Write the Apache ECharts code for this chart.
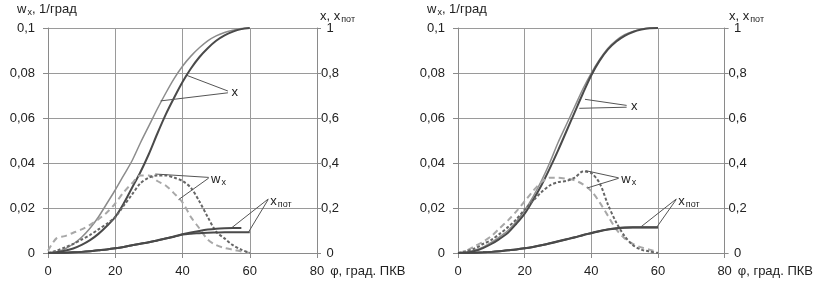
<!DOCTYPE html>
<html>
<head>
<meta charset="utf-8">
<script src="https://cdn.jsdelivr.net/npm/echarts@6/dist/echarts.min.js"></script>
<style>
  html, body { margin: 0; padding: 0; background: #fff; }
  #chart { width: 816px; height: 291px; }
</style>
</head>
<body>
<div id="chart"></div>
<script>
  // crank angle, deg (shared by every curve)
  var phi = [0, 2.5, 5, 7.5, 10, 12.5, 15, 17.5, 20, 22.5, 25, 27.5, 30,
             32.5, 35, 37.5, 40, 42.5, 45, 47.5, 50, 52.5, 55, 57.5, 60];

  // left chart
  var L_x1 = [0, 0.005, 0.018, 0.04, 0.07, 0.11, 0.16, 0.22, 0.28, 0.345, 0.41, 0.49, 0.565,
              0.64, 0.71, 0.775, 0.83, 0.875, 0.912, 0.943, 0.965, 0.98, 0.99, 0.998, 1];
  var L_x2 = [0, 0.003, 0.01, 0.02, 0.036, 0.057, 0.085, 0.12, 0.16, 0.22, 0.29, 0.36, 0.44,
              0.53, 0.615, 0.69, 0.76, 0.82, 0.87, 0.91, 0.943, 0.967, 0.984, 0.995, 1];
  var L_w1 = [0.001, 0.0065, 0.0075, 0.009, 0.0105, 0.0125, 0.015, 0.018, 0.022, 0.027, 0.031, 0.0345, 0.0345,
              0.032, 0.03, 0.0265, 0.0225, 0.016, 0.011, 0.006, 0.0035, 0.0022, 0.0015, 0.0007, 0];
  var L_w2 = [0, 0.001, 0.0025, 0.004, 0.006, 0.008, 0.0105, 0.013, 0.016, 0.021, 0.026, 0.031, 0.0335,
              0.0345, 0.0345, 0.0335, 0.032, 0.029, 0.023, 0.016, 0.0095, 0.0065, 0.0035, 0.0015, 0];
  var L_p1 = [0, 0.0005, 0.0015, 0.003, 0.005, 0.008, 0.012, 0.016, 0.021, 0.027, 0.034, 0.041, 0.048,
              0.056, 0.064, 0.073, 0.083, 0.091, 0.098, 0.104, 0.108, 0.11, 0.111, 0.111, null];
  var L_p2 = [0, 0.0005, 0.0015, 0.003, 0.005, 0.008, 0.012, 0.016, 0.021, 0.027, 0.034, 0.041, 0.048,
              0.056, 0.064, 0.072, 0.082, 0.086, 0.088, 0.09, 0.091, 0.092, 0.092, 0.092, 0.092];

  // right chart
  var R_x1 = [0, 0.003, 0.012, 0.026, 0.047, 0.072, 0.1, 0.14, 0.19, 0.25, 0.32, 0.4, 0.49,
              0.57, 0.65, 0.73, 0.8, 0.86, 0.91, 0.945, 0.97, 0.985, 0.995, 1, 1];
  var R_x2 = [0, 0.002, 0.009, 0.022, 0.04, 0.063, 0.09, 0.13, 0.175, 0.235, 0.3, 0.375, 0.455,
              0.54, 0.625, 0.71, 0.79, 0.855, 0.905, 0.94, 0.965, 0.982, 0.993, 0.999, 1];
  var R_w1 = [0, 0.001, 0.003, 0.005, 0.0075, 0.011, 0.0145, 0.0185, 0.023, 0.0275, 0.0315, 0.0335, 0.0335,
              0.033, 0.0323, 0.0305, 0.0275, 0.0225, 0.0165, 0.0105, 0.0065, 0.004, 0.0025, 0.0015, 0.0005];
  var R_w2 = [0, 0.0008, 0.002, 0.004, 0.0058, 0.0085, 0.0115, 0.015, 0.0193, 0.0232, 0.027, 0.03, 0.0315,
              0.032, 0.0335, 0.0362, 0.0355, 0.031, 0.0215, 0.0135, 0.0075, 0.0035, 0.0015, 0.0007, 0];
  var R_p1 = [0, 0.0005, 0.0015, 0.003, 0.005, 0.008, 0.012, 0.016, 0.021, 0.027, 0.034, 0.042, 0.051,
              0.06, 0.069, 0.079, 0.088, 0.097, 0.104, 0.109, 0.112, 0.113, 0.113, 0.113, 0.113];
  var R_p2 = [0, 0.0005, 0.0015, 0.003, 0.005, 0.008, 0.012, 0.016, 0.021, 0.027, 0.034, 0.043, 0.052,
              0.061, 0.07, 0.08, 0.089, 0.098, 0.105, 0.11, 0.113, 0.114, 0.114, 0.114, 0.114];

  // axis ticks
  var phiTicks = [0, 20, 40, 60, 80];
  var wTicks = [0, 0.02, 0.04, 0.06, 0.08, 0.1];
  var xTicks = [0, 0.2, 0.4, 0.6, 0.8, 1];

  // annotations: [phi, value] pairs, leader lines go label -> curve
  var L_xLabel = [54.3, 0.715];
  var L_xLeaders = [[[53.5, 0.72], [41.2, 0.79]], [[53.5, 0.712], [33.5, 0.676]]];
  var L_wLabel = [48.2, 0.0329];
  var L_wLeaders = [[[47.8, 0.0336], [31.9, 0.0351]], [[47.8, 0.0333], [38.8, 0.0237]]];
  var L_pLabel = [65.8, 0.23];
  var L_pLeaders = [[[65.5, 0.24], [54.7, 0.113]], [[65.5, 0.238], [59.6, 0.092]]];

  var R_xLabel = [51.6, 0.65];
  var R_xLeaders = [[[50.6, 0.656], [38.1, 0.683]], [[50.6, 0.648], [36.4, 0.643]]];
  var R_wLabel = [48.7, 0.0329];
  var R_wLeaders = [[[48.2, 0.0334], [38.3, 0.0366]], [[48.2, 0.0332], [38.8, 0.0289]]];
  var R_pLabel = [65.8, 0.23];
  var R_pLeaders = [[[65.5, 0.24], [54.7, 0.114]], [[65.5, 0.238], [59.6, 0.114]]];

  var FONT = '"Liberation Sans", Arial, sans-serif';
  var TXT = '#222';
  var GRIDC = '#9a9a9a';
  var rich = {
    m: { fontSize: 13, fontFamily: FONT, color: TXT },
    s: { fontSize: 9, fontFamily: FONT, color: TXT, padding: [7, 0, 0, 1] }
  };

  function comma(v, d) {
    return String(+v.toFixed(d)).replace('.', ',');
  }

  function pairs(vals) {
    var out = [];
    for (var i = 0; i < phi.length; i++) {
      if (vals[i] != null) out.push([phi[i], vals[i]]);
    }
    return out;
  }

  function leaders(list) {
    return list.map(function (l) {
      return [{ coord: l[0] }, { coord: l[1] }];
    });
  }

  function line(vals, xi, yi, color, width, type, ann) {
    var s = {
      type: 'line',
      xAxisIndex: xi,
      yAxisIndex: yi,
      data: pairs(vals),
      showSymbol: false,
      smooth: 0.3,
      lineStyle: { color: color, width: width, type: type },
      silent: true
    };
    if (ann) {
      s.markLine = {
        silent: true,
        symbol: ['none', 'none'],
        label: { show: false },
        lineStyle: { color: '#555', width: 1, type: 'solid' },
        data: leaders(ann.lines)
      };
      s.markPoint = {
        silent: true,
        symbol: 'circle',
        symbolSize: 0,
        label: {
          show: true, position: 'right', distance: 1,
          formatter: ann.text, rich: rich
        },
        data: [{ coord: ann.at }]
      };
    }
    return s;
  }

  function xAxis(gi) {
    return {
      gridIndex: gi, type: 'value', min: 0, max: 80, interval: 20,
      axisLine: { show: true, lineStyle: { color: '#8a8a8a' } },
      axisTick: { show: true, length: 5, lineStyle: { color: '#8a8a8a' } },
      axisLabel: { margin: 12, color: TXT, fontSize: 13, fontFamily: FONT },
      splitLine: { show: true, lineStyle: { color: GRIDC } },
      name: 'φ, град. ПКВ', nameLocation: 'end', nameGap: 9,
      nameTextStyle: { color: TXT, fontSize: 13, fontFamily: FONT,
                       verticalAlign: 'top', padding: [12, 0, 0, 0] }
    };
  }

  function wAxis(gi) {
    return {
      gridIndex: gi, type: 'value', position: 'left',
      min: wTicks[0], max: wTicks[wTicks.length - 1], interval: 0.02,
      axisLine: { show: true, lineStyle: { color: '#8a8a8a' } },
      axisTick: { show: true, length: 5, lineStyle: { color: '#8a8a8a' } },
      axisLabel: { margin: 13, color: TXT, fontSize: 13, fontFamily: FONT,
                   formatter: function (v) { return comma(v, 2); } },
      splitLine: { show: true, lineStyle: { color: GRIDC } }
    };
  }

  function xRightAxis(gi) {
    return {
      gridIndex: gi, type: 'value', position: 'right',
      min: xTicks[0], max: xTicks[xTicks.length - 1], interval: 0.2,
      axisLine: { show: true, lineStyle: { color: '#8a8a8a' } },
      axisTick: { show: true, length: 4, lineStyle: { color: '#8a8a8a' } },
      axisLabel: { margin: 13, align: 'center', color: TXT, fontSize: 13, fontFamily: FONT,
                   formatter: function (v) { return comma(v, 1); } },
      splitLine: { show: false }
    };
  }

  function title(left, top, text) {
    return {
      type: 'text', left: left, top: top,
      style: { text: text, rich: rich, font: '13px ' + FONT, fill: TXT }
    };
  }

  var DARK = '#4a4a4a', LIGHT = '#8c8c8c', DASH_D = '#666', DASH_L = '#a8a8a8';

  var option = {
    animation: false,
    backgroundColor: '#fff',
    grid: [
      { left: 48, top: 28, width: 269, height: 225 },
      { left: 458, top: 28, width: 269, height: 225 }
    ],
    xAxis: [xAxis(0), xAxis(1)],
    yAxis: [wAxis(0), xRightAxis(0), wAxis(1), xRightAxis(1)],
    graphic: [
      title(17, 3, '{m|w}{s|x}{m|, 1/град}'),
      title(320, 10, '{m|x, x}{s|пот}'),
      title(427, 3, '{m|w}{s|x}{m|, 1/град}'),
      title(729, 10, '{m|x, x}{s|пот}')
    ],
    series: [
      line(L_x1, 0, 1, LIGHT, 1.5, 'solid'),
      line(L_x2, 0, 1, DARK, 2, 'solid', { lines: L_xLeaders, at: L_xLabel, text: '{m|x}' }),
      line(L_w1, 0, 0, DASH_L, 2, [6, 4]),
      line(L_w2, 0, 0, DASH_D, 2, [3, 2], { lines: L_wLeaders, at: L_wLabel, text: '{m|w}{s|x}' }),
      line(L_p1, 0, 1, DARK, 2, 'solid'),
      line(L_p2, 0, 1, DARK, 2, 'solid', { lines: L_pLeaders, at: L_pLabel, text: '{m|x}{s|пот}' }),

      line(R_x1, 1, 3, LIGHT, 1.5, 'solid'),
      line(R_x2, 1, 3, DARK, 2, 'solid', { lines: R_xLeaders, at: R_xLabel, text: '{m|x}' }),
      line(R_w1, 1, 2, DASH_L, 2, [6, 4]),
      line(R_w2, 1, 2, DASH_D, 2, [3, 2], { lines: R_wLeaders, at: R_wLabel, text: '{m|w}{s|x}' }),
      line(R_p1, 1, 3, DARK, 2, 'solid'),
      line(R_p2, 1, 3, DARK, 2, 'solid', { lines: R_pLeaders, at: R_pLabel, text: '{m|x}{s|пот}' })
    ]
  };

  var chart = echarts.init(document.getElementById('chart'), null, { renderer: 'canvas' });
  chart.setOption(option);
</script>
</body>
</html>
